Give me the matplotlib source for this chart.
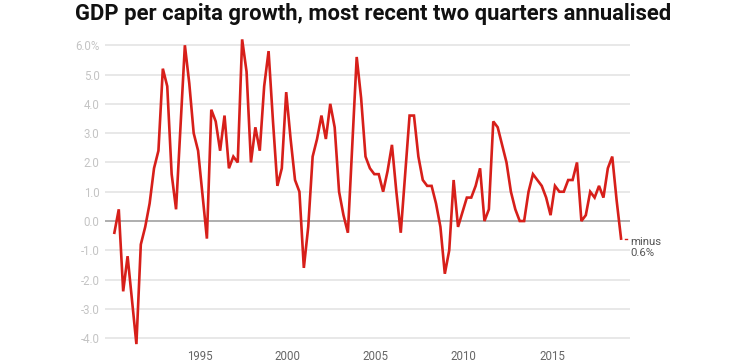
import numpy as np
import matplotlib
matplotlib.use("Agg")
import matplotlib.pyplot as plt
from matplotlib.ticker import FixedLocator, FixedFormatter

plt.rcParams["font.family"] = ["Roboto", "DejaVu Sans"]

# quarterly, Mar 1990 to Dec 2018 (% annualised)
growth = [
    -0.4, 0.4, -2.4, -1.2, -2.7, -4.2, -0.8, -0.2, 0.6, 1.8,
    2.4, 5.2, 4.6, 1.6, 0.4, 3.2, 6.0, 4.7, 3.0, 2.4,
    0.9, -0.6, 3.8, 3.4, 2.4, 3.6, 1.8, 2.2, 2.0, 6.2,
    5.1, 2.0, 3.2, 2.4, 4.6, 5.8, 3.4, 1.2, 1.8, 4.4,
    2.8, 1.4, 1.0, -1.6, -0.2, 2.2, 2.8, 3.6, 2.8, 4.0,
    3.2, 1.0, 0.2, -0.4, 2.6, 5.6, 4.2, 2.2, 1.8, 1.6,
    1.6, 1.0, 1.7, 2.6, 1.0, -0.4, 1.6, 3.6, 3.6, 2.2,
    1.4, 1.2, 1.2, 0.6, -0.2, -1.8, -1.0, 1.4, -0.2, 0.3,
    0.8, 0.8, 1.2, 1.8, 0.0, 0.4, 3.4, 3.2, 2.6, 2.0,
    1.0, 0.4, 0.0, 0.0, 1.0, 1.6, 1.4, 1.2, 0.8, 0.2,
    1.2, 1.0, 1.0, 1.4, 1.4, 2.0, 0.0, 0.2, 1.0, 0.8,
    1.2, 0.8, 1.8, 2.2, 0.7, -0.6,
]
start_year = 1990.17
years = start_year + 0.25 * np.arange(len(growth))

y_ticks = [-4, -3, -2, -1, 0, 1, 2, 3, 4, 5, 6]
y_labels = ["-4.0", "-3.0", "-2.0", "-1.0", "0.0", "1.0", "2.0", "3.0", "4.0", "5.0", "6.0%"]
x_ticks = [1995, 2000, 2005, 2010, 2015]
x_labels = ["1995", "2000", "2005", "2010", "2015"]

fig = plt.figure(figsize=(7.54, 3.62), dpi=100)
ax = fig.add_axes([0.1393, 0.0414, 0.6963, 0.866])

# gridlines
for v in y_ticks:
    ax.axhline(v, color="#999999" if v == 0 else "#e2e2e2", linewidth=1.1, zorder=1)

ax.plot(years, growth, color="#d71f1a", linewidth=1.9, solid_joinstyle="miter", zorder=3)

# end label
ax.plot([years[-1] + 0.2, years[-1] + 0.32], [growth[-1], growth[-1]],
        color="#d71f1a", linewidth=1.0, zorder=3)
ax.text(years[-1] + 0.55, growth[-1] + 0.05, "minus\n0.6%", ha="left", va="top",
        fontsize=8.2, color="#555555", linespacing=1.15,
        transform=ax.transData)

ax.set_xlim(1989.64, 2019.43)
ax.set_ylim(-4.3, 6.4)

ax.yaxis.set_major_locator(FixedLocator(y_ticks))
ax.yaxis.set_major_formatter(FixedFormatter(y_labels))
ax.xaxis.set_major_locator(FixedLocator(x_ticks))
ax.xaxis.set_major_formatter(FixedFormatter(x_labels))
ax.tick_params(axis="y", length=0, pad=4, labelsize=8.3, labelcolor="#c4c4c4")
ax.tick_params(axis="x", length=0, pad=2, labelsize=8.3, labelcolor="#666666")

for s in ax.spines.values():
    s.set_visible(False)
ax.patch.set_alpha(0)

fig.text(0.495, 0.962, "GDP per capita growth, most recent two quarters annualised",
         ha="center", va="center", fontsize=15.8, fontweight="bold", color="#111111")

plt.savefig("out.png", dpi=100)
